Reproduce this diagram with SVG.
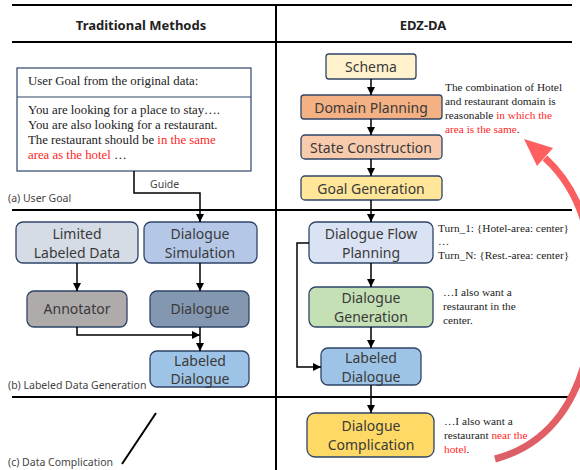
<svg xmlns="http://www.w3.org/2000/svg" width="580" height="470" viewBox="0 0 580 470">
<defs>
<marker id="ah" viewBox="0 0 10 10" refX="10" refY="5" markerWidth="8" markerHeight="8" markerUnits="userSpaceOnUse" orient="auto">
<path d="M0,0 L10,5 L0,10 z" fill="#000"/>
</marker>
<linearGradient id="rg" gradientUnits="userSpaceOnUse" x1="0" y1="465" x2="0" y2="140">
<stop offset="0" stop-color="#dc5f66"/>
<stop offset="1" stop-color="#ff5f5f"/>
</linearGradient>
<style>
.sep{stroke:#000;stroke-width:2;fill:none}
.hdr{font-family:"Noto Sans",sans-serif;font-weight:bold;font-size:13px;fill:#222;text-anchor:middle}
.box{stroke:#2e4468;stroke-width:1.3}
.lbl{font-family:"Noto Sans",sans-serif;font-size:14px;fill:#3a3a3a;text-anchor:middle}
.cap{font-family:"Noto Sans",sans-serif;font-size:10.5px;fill:#444}
.tm{font-family:"Liberation Serif",serif;fill:#222}
.red{fill:#ff1f1f}
.cn{stroke:#000;stroke-width:1.5;fill:none}
</style>
</defs>

<g id="frame">
<line class="sep" x1="12" y1="5" x2="572" y2="5"/>
<line class="sep" x1="12" y1="42" x2="572" y2="42"/>
<line class="sep" x1="12" y1="210" x2="572" y2="210"/>
<line class="sep" x1="12" y1="397" x2="572" y2="397"/>
<line class="sep" x1="276" y1="5" x2="276" y2="470"/>
<text class="hdr" x="141" y="30">Traditional Methods</text>
<text class="hdr" x="423" y="30">EDZ-DA</text>
<text class="cap" x="8" y="202">(a) User Goal</text>
<text class="cap" x="8" y="389">(b) Labeled Data Generation</text>
<text class="cap" x="8" y="466">(c) Data Complication</text>
<line x1="122" y1="464" x2="156" y2="413" stroke="#000" stroke-width="2"/>
</g>

<g id="user-goal">
<rect x="17" y="68" width="234" height="103" fill="#fff" stroke="#2e4468" stroke-width="1.2"/>
<line x1="17" y1="97" x2="251" y2="97" stroke="#2e4468" stroke-width="1.2"/>
<text class="tm" x="28" y="85" font-size="12.8">User Goal from the original data:</text>
<text class="tm" font-size="12.8">
<tspan x="28" y="114">You are looking for a place to stay….</tspan>
<tspan x="28" y="129">You are also looking for a restaurant.</tspan>
<tspan x="28" y="144">The restaurant should be <tspan class="red">in the same</tspan></tspan>
<tspan x="28" y="159"><tspan class="red">area as the hotel</tspan> …</tspan>
</text>
</g>

<g id="limited-labeled-data">
<rect class="box" x="16" y="222" width="122" height="41" rx="7" fill="#d6dce5"/>
<text class="lbl" x="77" y="239">Limited</text>
<text class="lbl" x="77" y="258">Labeled Data</text>
</g>
<g id="dialogue-simulation">
<rect class="box" x="144" y="222" width="113" height="41" rx="7" fill="#b4c7e7"/>
<text class="lbl" x="200" y="239">Dialogue</text>
<text class="lbl" x="200" y="258">Simulation</text>
</g>
<g id="annotator">
<rect class="box" x="27" y="291" width="100" height="36" rx="7" fill="#afabab"/>
<text class="lbl" x="77" y="314">Annotator</text>
</g>
<g id="dialogue">
<rect class="box" x="150" y="291" width="99" height="36" rx="7" fill="#8497b0"/>
<text class="lbl" x="200" y="314">Dialogue</text>
</g>
<g id="labeled-dialogue-left">
<rect class="box" x="150" y="351" width="99" height="36" rx="7" fill="#9dc3e6"/>
<text class="lbl" x="200" y="366">Labeled</text>
<text class="lbl" x="200" y="384">Dialogue</text>
</g>

<g id="schema">
<rect class="box" x="326" y="54" width="90" height="25" rx="3" fill="#fff2cc"/>
<text class="lbl" x="371" y="72">Schema</text>
</g>
<g id="domain-planning">
<rect class="box" x="301" y="95" width="141" height="24" rx="3" fill="#f4b183"/>
<text class="lbl" x="371" y="113" font-size="14.5">Domain Planning</text>
</g>
<g id="state-construction">
<rect class="box" x="301" y="135" width="141" height="24" rx="4" fill="#f8cbad"/>
<text class="lbl" x="371" y="153">State Construction</text>
</g>
<g id="goal-generation">
<rect class="box" x="301" y="176" width="141" height="24" rx="4" fill="#ffe699"/>
<text class="lbl" x="371" y="194">Goal Generation</text>
</g>
<g id="note-domain">
<text class="tm" font-size="11.3">
<tspan x="445" y="91">The combination of Hotel</tspan>
<tspan x="445" y="105">and restaurant domain is</tspan>
<tspan x="445" y="119">reasonable <tspan class="red">in which the</tspan></tspan>
<tspan x="445" y="133"><tspan class="red">area is the same</tspan>.</tspan>
</text>
</g>

<g id="dialogue-flow-planning">
<rect class="box" x="309" y="222" width="124" height="41" rx="7" fill="#dae3f3"/>
<text class="lbl" x="371" y="239">Dialogue Flow</text>
<text class="lbl" x="371" y="258">Planning</text>
</g>
<g id="dialogue-generation">
<rect class="box" x="309" y="287" width="124" height="40" rx="7" fill="#c5e0b4"/>
<text class="lbl" x="371" y="303">Dialogue</text>
<text class="lbl" x="371" y="322">Generation</text>
</g>
<g id="labeled-dialogue-right">
<rect class="box" x="321" y="348" width="100" height="37" rx="7" fill="#9dc3e6"/>
<text class="lbl" x="371" y="363">Labeled</text>
<text class="lbl" x="371" y="382">Dialogue</text>
</g>
<g id="dialogue-complication">
<rect class="box" x="307" y="413" width="127" height="44" rx="8" fill="#ffd966"/>
<text class="lbl" x="371" y="431">Dialogue</text>
<text class="lbl" x="371" y="450">Complication</text>
</g>
<g id="note-turns">
<text class="tm" font-size="11.3">
<tspan x="438" y="232">Turn_1: {Hotel-area: center}</tspan>
<tspan x="438" y="245">…</tspan>
<tspan x="438" y="259">Turn_N: {Rest.-area: center}</tspan>
</text>
</g>
<g id="note-center">
<text class="tm" font-size="11.3">
<tspan x="443" y="296">…I also want a</tspan>
<tspan x="443" y="310">restaurant in the</tspan>
<tspan x="443" y="324">center.</tspan>
</text>
</g>
<g id="note-near">
<text class="tm" font-size="11.3">
<tspan x="444" y="425">…I also want a</tspan>
<tspan x="444" y="439">restaurant <tspan class="red">near the</tspan></tspan>
<tspan x="444" y="453"><tspan class="red">hotel</tspan>.</tspan>
</text>
</g>

<g id="connectors">
<polyline class="cn" points="134,171 134,193 200,193 200,222" marker-end="url(#ah)"/>
<text class="cap" x="150" y="188" fill="#555">Guide</text>
<line class="cn" x1="77" y1="263" x2="77" y2="291" marker-end="url(#ah)"/>
<line class="cn" x1="200" y1="263" x2="200" y2="291" marker-end="url(#ah)"/>
<polyline class="cn" points="77,327 77,335 200,335" marker-end="url(#ah)"/>
<line class="cn" x1="200" y1="327" x2="200" y2="351" marker-end="url(#ah)"/>
<line class="cn" x1="371" y1="79" x2="371" y2="95" marker-end="url(#ah)"/>
<line class="cn" x1="371" y1="119" x2="371" y2="135" marker-end="url(#ah)"/>
<line class="cn" x1="371" y1="159" x2="371" y2="176" marker-end="url(#ah)"/>
<line class="cn" x1="371" y1="200" x2="371" y2="222" marker-end="url(#ah)"/>
<line class="cn" x1="371" y1="263" x2="371" y2="287" marker-end="url(#ah)"/>
<line class="cn" x1="371" y1="327" x2="371" y2="348" marker-end="url(#ah)"/>
<polyline class="cn" points="309,243 297,243 297,367 321,367" marker-end="url(#ah)"/>
<line class="cn" x1="371" y1="385" x2="371" y2="413" marker-end="url(#ah)"/>
<path d="M495,459 C548,445 585,400 592,320 C598,240 580,190 545,158" fill="none" stroke="url(#rg)" stroke-width="7"/>
<polygon points="524,139 553,148 537,166" fill="#ff5f5f"/>
</g>
</svg>
